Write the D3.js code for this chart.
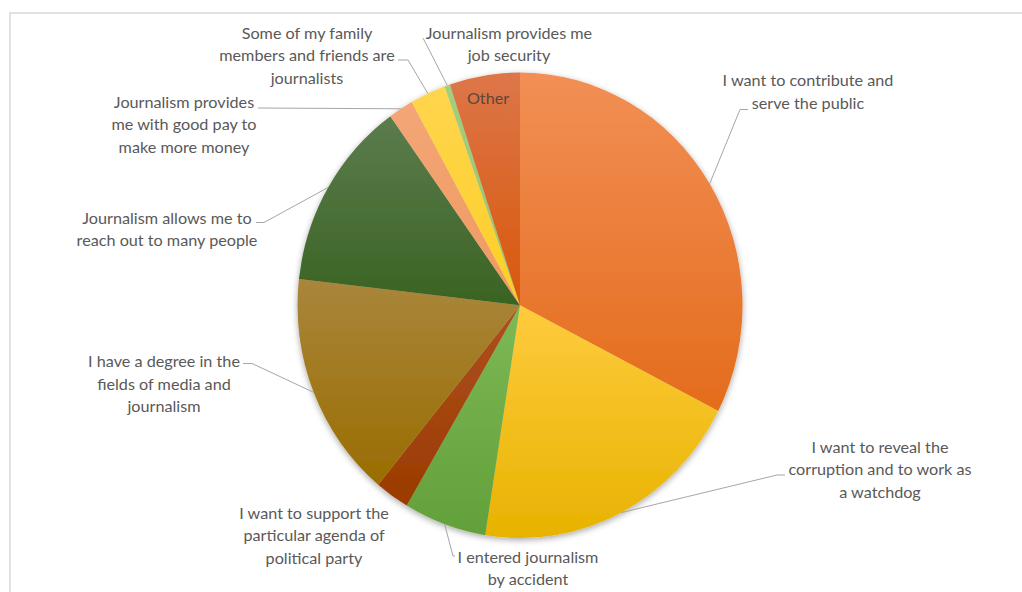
<!DOCTYPE html>
<html>
<head>
<meta charset="utf-8">
<script src="https://cdn.jsdelivr.net/npm/d3@7"></script>
<style>
  html, body { margin: 0; padding: 0; background: #fff; }
  svg { display: block; }
  text { font-family: Lato, "Open Sans", sans-serif; }
</style>
</head>
<body>
<svg id="chart" width="1022" height="592"></svg>
<script>
// Reasons for entering journalism (share of respondents, %)
const categories = [
  "I want to contribute and serve the public",
  "I want to reveal the corruption and to work as a watchdog",
  "I entered journalism by accident",
  "I want to support the particular agenda of political party",
  "I have a degree in the fields of media and journalism",
  "Journalism allows me to reach out to many people",
  "Journalism provides me with good pay to make more money",
  "Some of my family members and friends are journalists",
  "Journalism provides me job security",
  "Other"
];
const shares = [32.5, 20.0, 6.0, 2.5, 15.8, 13.3, 1.8, 2.6, 0.4, 5.1];

// Wrapped label lines as they appear around the pie
const labelLines = [
  ["I want to contribute and", "serve the public"],
  ["I want to reveal the", "corruption and to work as", "a watchdog"],
  ["I entered journalism", "by accident"],
  ["I want to support the", "particular agenda of", "political party"],
  ["I have a degree in the", "fields of media and", "journalism"],
  ["Journalism allows me to", "reach out to many people"],
  ["Journalism provides", "me with good pay to", "make more money"],
  ["Some of my family", "members and friends are", "journalists"],
  ["Journalism provides me", "job security"],
  ["Other"]
];

// Slice gradient colours (top, bottom)
const topColors    = ["#F28F55", "#FFCB3D", "#7DB955", "#AE5020", "#A9863C", "#5C7C4E", "#F3A676", "#FFD54E", "#A2CF80", "#DD764A"];
const bottomColors = ["#E46C1C", "#E7B300", "#62A03A", "#9A3B00", "#9A6D00", "#3A6322", "#F09960", "#FCCF26", "#94C46E", "#D8580A"];

// ---- layout ----
const cx = 520, cy = 305.3, r = 222.5, sy = 1.046;
const fontSize = 16.2, lineH = 22.5;
const labelLayout = [
  { x: 808, y: 80.7,  leader: [[740, 109.5], [748, 109.5]] },
  { x: 880, y: 447.3, leader: [[777, 475], [785, 475]] },
  { x: 528, y: 557.3, leader: [[453, 556], [455, 556]] },
  { x: 314, y: 513.3, leader: null },
  { x: 164, y: 361.7, leader: [[252, 363.5], [243, 363.5]] },
  { x: 167, y: 218.3, leader: [[264, 222.5], [256, 222.5]] },
  { x: 184, y: 102.3, leader: [[258, 108]] },
  { x: 307, y: 33.3,  leader: [[408, 60], [398, 60]] },
  { x: 509, y: 33,    leader: [[423, 38]] },
  { inside: true }
];

const svg = d3.select("#chart");
const defs = svg.append("defs");

// chart area frame
svg.append("rect")
  .attr("x", 10).attr("y", 13)
  .attr("width", 1030).attr("height", 600)
  .attr("fill", "#fff")
  .attr("stroke", "#D9D9D9").attr("stroke-width", 1.5);

categories.forEach((c, i) => {
  const g = defs.append("linearGradient")
    .attr("id", "grad" + i)
    .attr("x1", 0).attr("y1", 0).attr("x2", 0).attr("y2", 1);
  g.append("stop").attr("offset", "0%").attr("stop-color", topColors[i]);
  g.append("stop").attr("offset", "100%").attr("stop-color", bottomColors[i]);
});

const shadow = defs.append("filter").attr("id", "pieShadow")
  .attr("x", "-10%").attr("y", "-10%").attr("width", "120%").attr("height", "120%");
shadow.append("feDropShadow")
  .attr("dx", 0).attr("dy", 2).attr("stdDeviation", 3)
  .attr("flood-color", "#000").attr("flood-opacity", 0.35);

const pie = d3.pie().sort(null).value(d => d)(shares);
const arc = d3.arc().innerRadius(0).outerRadius(r);

const pieG = svg.append("g")
  .attr("transform", `translate(${cx},${cy}) scale(1,${sy})`)
  .attr("filter", "url(#pieShadow)");

pieG.selectAll("path")
  .data(pie)
  .join("path")
  .attr("d", arc)
  .attr("fill", (d, i) => `url(#grad${i})`);

// point on the slice rim at its middle angle, in page coordinates
function rimPoint(d, k = 1) {
  const a = (d.startAngle + d.endAngle) / 2;
  return [cx + k * r * Math.sin(a), cy - k * r * Math.cos(a) * sy];
}

const labelsG = svg.append("g");
pie.forEach((d, i) => {
  const L = labelLayout[i];
  if (L.inside) {
    const [px, py] = rimPoint(d, 0.9);
    labelsG.append("text")
      .attr("x", px).attr("y", py + 5.5)
      .attr("text-anchor", "middle")
      .attr("font-size", fontSize)
      .attr("fill", "#5A463A")
      .text(labelLines[i][0]);
    return;
  }
  if (L.leader) {
    const pts = [rimPoint(d)].concat(L.leader);
    labelsG.append("path")
      .attr("d", d3.line()(pts))
      .attr("fill", "none")
      .attr("stroke", "#A6A6A6")
      .attr("stroke-width", 1);
  }
  const t = labelsG.append("text")
    .attr("text-anchor", "middle")
    .attr("font-size", fontSize)
    .attr("fill", "#595959");
  labelLines[i].forEach((ln, j) => {
    t.append("tspan")
      .attr("x", L.x)
      .attr("y", L.y + 5.5 + j * lineH)
      .text(ln);
  });
});
</script>
</body>
</html>
